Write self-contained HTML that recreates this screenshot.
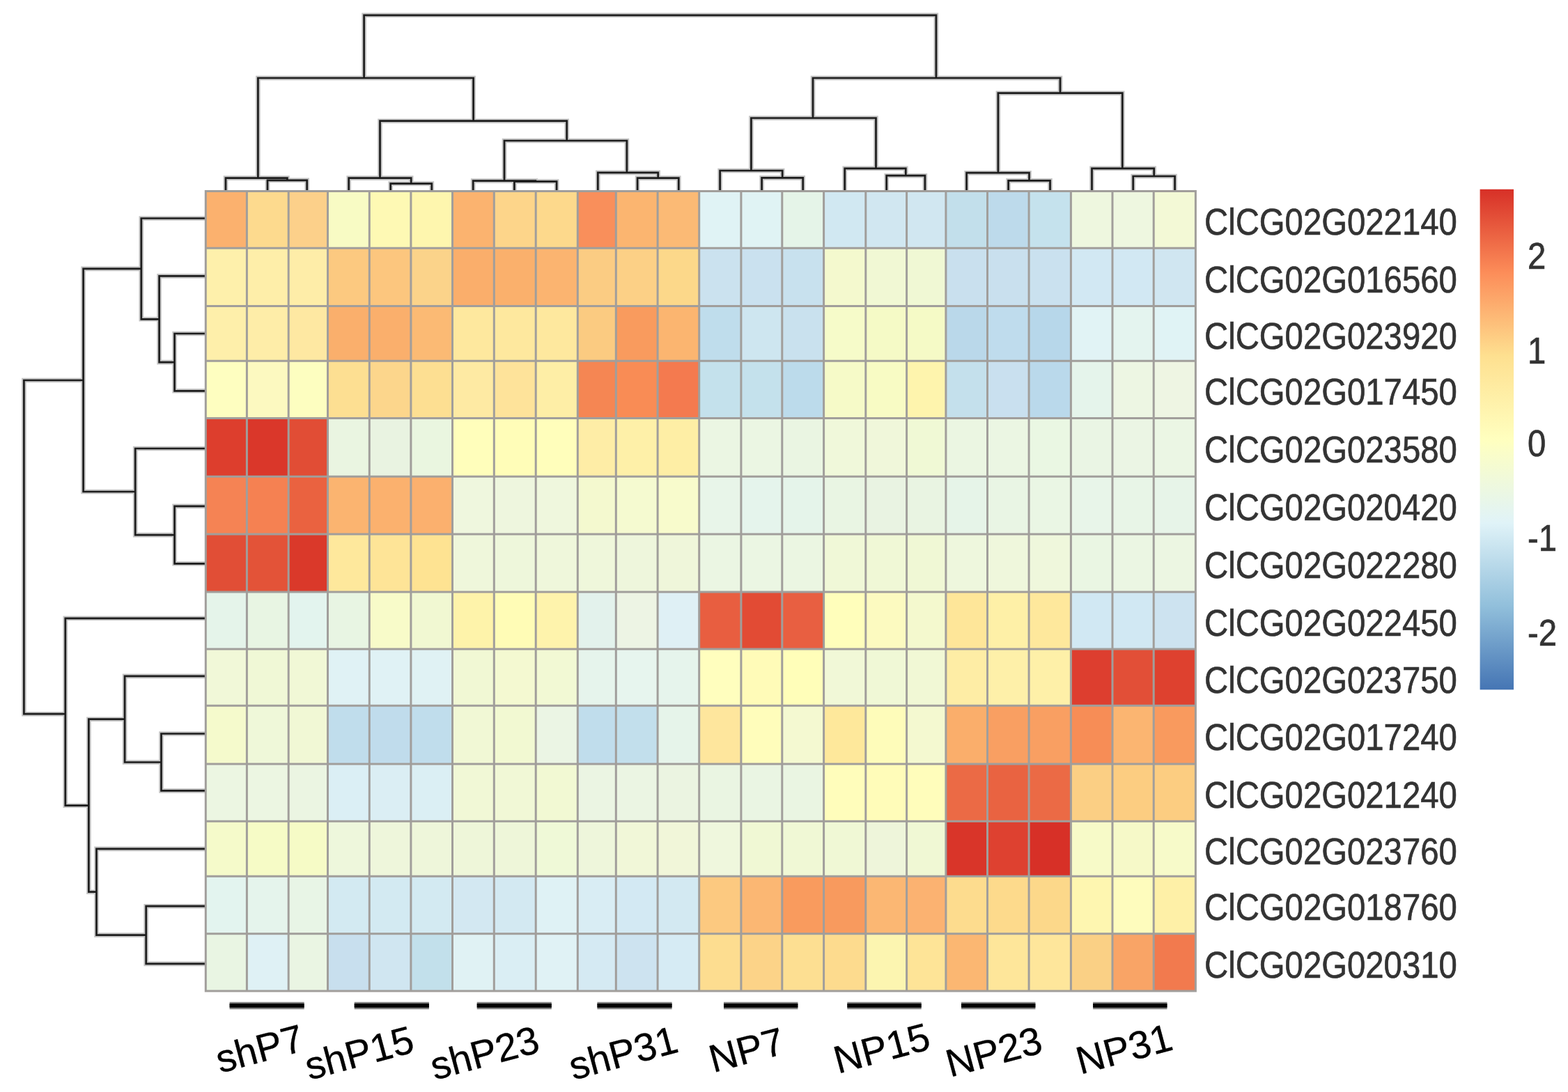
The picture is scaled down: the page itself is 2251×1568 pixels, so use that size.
<!DOCTYPE html>
<html><head><meta charset="utf-8"><title>heatmap</title>
<style>html,body{margin:0;padding:0;background:#fff;} body{width:2251px;height:1568px;overflow:hidden;} svg{display:block;}</style>
</head><body>
<svg width="2251" height="1568" viewBox="0 0 2251 1568">
<rect x="0" y="0" width="2251" height="1568" fill="#ffffff"/>
<path d="M384.0 273.5V258.8H440.7V273.5M324.0 273.5V255.6H412.4V258.8M560.7 273.5V263.6H619.8V273.5M500.7 273.5V255.6H590.2V263.6M738.4 273.5V260.6H799.1V273.5M679.2 273.5V259.6H768.8V260.6M915.1 273.5V255.6H974.3V273.5M858.3 273.5V247.9H944.7V255.6M1093.6 273.5V255.4H1152.7V273.5M1033.6 273.5V245.0H1123.2V255.4M1272.7 273.5V252.2H1327.9V273.5M1212.7 273.5V241.8H1300.3V252.2M1447.6 273.5V259.4H1507.5V273.5M1387.6 273.5V248.2H1477.5V259.4M1626.7 273.5V253.0H1686.6V273.5M1567.5 273.5V241.8H1656.7V253.0M724.0 259.6V202.0H899.9V247.9M545.5 255.6V173.7H813.7V202.0M370.4 255.6V112.0H679.6V173.7M1078.4 245.0V169.5H1257.5V241.8M1432.9 248.2V133.7H1611.3V241.8M1167.0 169.5V112.0H1522.0V133.7M522.6 112.0V21.8H1343.9V112.0M295.0 479.0H250.6V561.3H295.0M295.0 396.4H228.6V520.1H250.6M295.0 313.5H202.8V458.3H228.6M295.0 726.9H250.6V809.3H295.0M295.0 644.0H194.2V768.1H250.6M202.8 385.9H119.6V706.0H194.2M295.0 1053.5H231.5V1135.4H295.0M295.0 970.9H179.1V1094.5H231.5M295.0 1301.2H209.7V1383.9H295.0M295.0 1218.9H138.5V1342.6H209.7M179.1 1032.7H127.4V1280.7H138.5M295.0 887.8H93.8V1156.7H127.4M119.6 546.0H34.4V1025.2H93.8" stroke="#c4c4c4" stroke-width="6.6" fill="none" stroke-linecap="square" stroke-linejoin="miter"/>
<path d="M384.0 273.5V258.8H440.7V273.5M324.0 273.5V255.6H412.4V258.8M560.7 273.5V263.6H619.8V273.5M500.7 273.5V255.6H590.2V263.6M738.4 273.5V260.6H799.1V273.5M679.2 273.5V259.6H768.8V260.6M915.1 273.5V255.6H974.3V273.5M858.3 273.5V247.9H944.7V255.6M1093.6 273.5V255.4H1152.7V273.5M1033.6 273.5V245.0H1123.2V255.4M1272.7 273.5V252.2H1327.9V273.5M1212.7 273.5V241.8H1300.3V252.2M1447.6 273.5V259.4H1507.5V273.5M1387.6 273.5V248.2H1477.5V259.4M1626.7 273.5V253.0H1686.6V273.5M1567.5 273.5V241.8H1656.7V253.0M724.0 259.6V202.0H899.9V247.9M545.5 255.6V173.7H813.7V202.0M370.4 255.6V112.0H679.6V173.7M1078.4 245.0V169.5H1257.5V241.8M1432.9 248.2V133.7H1611.3V241.8M1167.0 169.5V112.0H1522.0V133.7M522.6 112.0V21.8H1343.9V112.0M295.0 479.0H250.6V561.3H295.0M295.0 396.4H228.6V520.1H250.6M295.0 313.5H202.8V458.3H228.6M295.0 726.9H250.6V809.3H295.0M295.0 644.0H194.2V768.1H250.6M202.8 385.9H119.6V706.0H194.2M295.0 1053.5H231.5V1135.4H295.0M295.0 970.9H179.1V1094.5H231.5M295.0 1301.2H209.7V1383.9H295.0M295.0 1218.9H138.5V1342.6H209.7M179.1 1032.7H127.4V1280.7H138.5M295.0 887.8H93.8V1156.7H127.4M119.6 546.0H34.4V1025.2H93.8" stroke="#1c1c1c" stroke-width="2.7" fill="none" stroke-linecap="square" stroke-linejoin="miter"/>
<rect x="295.30" y="274.60" width="59.40" height="82.00" fill="#FBB16E"/>
<rect x="354.40" y="274.60" width="60.10" height="82.00" fill="#FDDA8E"/>
<rect x="414.20" y="274.60" width="56.60" height="82.00" fill="#FCD08A"/>
<rect x="470.50" y="274.60" width="60.10" height="82.00" fill="#F8FBC4"/>
<rect x="530.30" y="274.60" width="59.90" height="82.00" fill="#FEF9B4"/>
<rect x="589.90" y="274.60" width="59.90" height="82.00" fill="#FEF6AE"/>
<rect x="649.50" y="274.60" width="60.10" height="82.00" fill="#FBB36F"/>
<rect x="709.30" y="274.60" width="60.20" height="82.00" fill="#FDD58A"/>
<rect x="769.20" y="274.60" width="60.40" height="82.00" fill="#FDD98C"/>
<rect x="829.30" y="274.60" width="55.30" height="82.00" fill="#F98F5B"/>
<rect x="884.30" y="274.60" width="60.10" height="82.00" fill="#FBB570"/>
<rect x="944.10" y="274.60" width="59.90" height="82.00" fill="#FBBA75"/>
<rect x="1003.70" y="274.60" width="60.50" height="82.00" fill="#E0F3F5"/>
<rect x="1063.90" y="274.60" width="59.20" height="82.00" fill="#E0F3F4"/>
<rect x="1122.80" y="274.60" width="60.10" height="82.00" fill="#E5F4E8"/>
<rect x="1182.60" y="274.60" width="60.50" height="82.00" fill="#D1E8F2"/>
<rect x="1242.80" y="274.60" width="59.10" height="82.00" fill="#D1E7F1"/>
<rect x="1301.60" y="274.60" width="56.60" height="82.00" fill="#D1E7F1"/>
<rect x="1357.90" y="274.60" width="59.90" height="82.00" fill="#C2DFEB"/>
<rect x="1417.50" y="274.60" width="59.90" height="82.00" fill="#BDDAEB"/>
<rect x="1477.10" y="274.60" width="60.60" height="82.00" fill="#C5E2ED"/>
<rect x="1537.40" y="274.60" width="59.90" height="82.00" fill="#EEF7DF"/>
<rect x="1597.00" y="274.60" width="59.50" height="82.00" fill="#EEF7E0"/>
<rect x="1656.20" y="274.60" width="60.50" height="82.00" fill="#F3F9D6"/>
<rect x="295.30" y="356.30" width="59.40" height="83.40" fill="#FEF0AB"/>
<rect x="354.40" y="356.30" width="60.10" height="83.40" fill="#FEEEA9"/>
<rect x="414.20" y="356.30" width="56.60" height="83.40" fill="#FEEDA8"/>
<rect x="470.50" y="356.30" width="60.10" height="83.40" fill="#FCC980"/>
<rect x="530.30" y="356.30" width="59.90" height="83.40" fill="#FCC67E"/>
<rect x="589.90" y="356.30" width="59.90" height="83.40" fill="#FBD38A"/>
<rect x="649.50" y="356.30" width="60.10" height="83.40" fill="#FAAE6B"/>
<rect x="709.30" y="356.30" width="60.20" height="83.40" fill="#FAB06C"/>
<rect x="769.20" y="356.30" width="60.40" height="83.40" fill="#FBB470"/>
<rect x="829.30" y="356.30" width="55.30" height="83.40" fill="#FBCC83"/>
<rect x="884.30" y="356.30" width="60.10" height="83.40" fill="#FCD086"/>
<rect x="944.10" y="356.30" width="59.90" height="83.40" fill="#FCD88A"/>
<rect x="1003.70" y="356.30" width="60.50" height="83.40" fill="#CBE2EF"/>
<rect x="1063.90" y="356.30" width="59.20" height="83.40" fill="#CAE1EF"/>
<rect x="1122.80" y="356.30" width="60.10" height="83.40" fill="#C8E1EE"/>
<rect x="1182.60" y="356.30" width="60.50" height="83.40" fill="#F4F9CE"/>
<rect x="1242.80" y="356.30" width="59.10" height="83.40" fill="#F1F8D4"/>
<rect x="1301.60" y="356.30" width="56.60" height="83.40" fill="#F0F8D4"/>
<rect x="1357.90" y="356.30" width="59.90" height="83.40" fill="#C9E0EE"/>
<rect x="1417.50" y="356.30" width="59.90" height="83.40" fill="#C9E0EE"/>
<rect x="1477.10" y="356.30" width="60.60" height="83.40" fill="#CAE1EF"/>
<rect x="1537.40" y="356.30" width="59.90" height="83.40" fill="#D2E8F3"/>
<rect x="1597.00" y="356.30" width="59.50" height="83.40" fill="#D2E8F3"/>
<rect x="1656.20" y="356.30" width="60.50" height="83.40" fill="#D0E6F1"/>
<rect x="295.30" y="439.40" width="59.40" height="79.20" fill="#FEEFAA"/>
<rect x="354.40" y="439.40" width="60.10" height="79.20" fill="#FEEDA8"/>
<rect x="414.20" y="439.40" width="56.60" height="79.20" fill="#FEE8A2"/>
<rect x="470.50" y="439.40" width="60.10" height="79.20" fill="#FAAF6C"/>
<rect x="530.30" y="439.40" width="59.90" height="79.20" fill="#FAAF6C"/>
<rect x="589.90" y="439.40" width="59.90" height="79.20" fill="#FBBA74"/>
<rect x="649.50" y="439.40" width="60.10" height="79.20" fill="#FEE89E"/>
<rect x="709.30" y="439.40" width="60.20" height="79.20" fill="#FEE89E"/>
<rect x="769.20" y="439.40" width="60.40" height="79.20" fill="#FEE89E"/>
<rect x="829.30" y="439.40" width="55.30" height="79.20" fill="#FBCB81"/>
<rect x="884.30" y="439.40" width="60.10" height="79.20" fill="#F99B5E"/>
<rect x="944.10" y="439.40" width="59.90" height="79.20" fill="#FBB570"/>
<rect x="1003.70" y="439.40" width="60.50" height="79.20" fill="#BFDDEC"/>
<rect x="1063.90" y="439.40" width="59.20" height="79.20" fill="#CEE6F0"/>
<rect x="1122.80" y="439.40" width="60.10" height="79.20" fill="#C9E1EE"/>
<rect x="1182.60" y="439.40" width="60.50" height="79.20" fill="#F6FBC9"/>
<rect x="1242.80" y="439.40" width="59.10" height="79.20" fill="#F5FAC6"/>
<rect x="1301.60" y="439.40" width="56.60" height="79.20" fill="#F5FAC6"/>
<rect x="1357.90" y="439.40" width="59.90" height="79.20" fill="#BAD8EA"/>
<rect x="1417.50" y="439.40" width="59.90" height="79.20" fill="#BFDCED"/>
<rect x="1477.10" y="439.40" width="60.60" height="79.20" fill="#B7D7EA"/>
<rect x="1537.40" y="439.40" width="59.90" height="79.20" fill="#E1F3F5"/>
<rect x="1597.00" y="439.40" width="59.50" height="79.20" fill="#E4F4EF"/>
<rect x="1656.20" y="439.40" width="60.50" height="79.20" fill="#E0F3F5"/>
<rect x="295.30" y="518.30" width="59.40" height="82.60" fill="#FEFEC0"/>
<rect x="354.40" y="518.30" width="60.10" height="82.60" fill="#FCF9C0"/>
<rect x="414.20" y="518.30" width="56.60" height="82.60" fill="#FDFEC0"/>
<rect x="470.50" y="518.30" width="60.10" height="82.60" fill="#FDDF92"/>
<rect x="530.30" y="518.30" width="59.90" height="82.60" fill="#FCD68C"/>
<rect x="589.90" y="518.30" width="59.90" height="82.60" fill="#FDDF92"/>
<rect x="649.50" y="518.30" width="60.10" height="82.60" fill="#FEEAA3"/>
<rect x="709.30" y="518.30" width="60.20" height="82.60" fill="#FEE39A"/>
<rect x="769.20" y="518.30" width="60.40" height="82.60" fill="#FEEEA6"/>
<rect x="829.30" y="518.30" width="55.30" height="82.60" fill="#F58653"/>
<rect x="884.30" y="518.30" width="60.10" height="82.60" fill="#F98C55"/>
<rect x="944.10" y="518.30" width="59.90" height="82.60" fill="#F47A4F"/>
<rect x="1003.70" y="518.30" width="60.50" height="82.60" fill="#C4E1EC"/>
<rect x="1063.90" y="518.30" width="59.20" height="82.60" fill="#C4E1EC"/>
<rect x="1122.80" y="518.30" width="60.10" height="82.60" fill="#BCDBEB"/>
<rect x="1182.60" y="518.30" width="60.50" height="82.60" fill="#F6FAC8"/>
<rect x="1242.80" y="518.30" width="59.10" height="82.60" fill="#F8FBC4"/>
<rect x="1301.60" y="518.30" width="56.60" height="82.60" fill="#FEF4AD"/>
<rect x="1357.90" y="518.30" width="59.90" height="82.60" fill="#C4E0EC"/>
<rect x="1417.50" y="518.30" width="59.90" height="82.60" fill="#C9E0EF"/>
<rect x="1477.10" y="518.30" width="60.60" height="82.60" fill="#BAD9EB"/>
<rect x="1537.40" y="518.30" width="59.90" height="82.60" fill="#E5F4EB"/>
<rect x="1597.00" y="518.30" width="59.50" height="82.60" fill="#EDF6E3"/>
<rect x="1656.20" y="518.30" width="60.50" height="82.60" fill="#EEF5E3"/>
<rect x="295.30" y="600.60" width="59.40" height="83.90" fill="#DD3E2D"/>
<rect x="354.40" y="600.60" width="60.10" height="83.90" fill="#DA372A"/>
<rect x="414.20" y="600.60" width="56.60" height="83.90" fill="#E14D35"/>
<rect x="470.50" y="600.60" width="60.10" height="83.90" fill="#EAF5E1"/>
<rect x="530.30" y="600.60" width="59.90" height="83.90" fill="#E9F3E1"/>
<rect x="589.90" y="600.60" width="59.90" height="83.90" fill="#EAF6E0"/>
<rect x="649.50" y="600.60" width="60.10" height="83.90" fill="#FFFEBB"/>
<rect x="709.30" y="600.60" width="60.20" height="83.90" fill="#FFFDB8"/>
<rect x="769.20" y="600.60" width="60.40" height="83.90" fill="#FFFEBB"/>
<rect x="829.30" y="600.60" width="55.30" height="83.90" fill="#FEEDA6"/>
<rect x="884.30" y="600.60" width="60.10" height="83.90" fill="#FEF0A8"/>
<rect x="944.10" y="600.60" width="59.90" height="83.90" fill="#FEEEA5"/>
<rect x="1003.70" y="600.60" width="60.50" height="83.90" fill="#EBF6E3"/>
<rect x="1063.90" y="600.60" width="59.20" height="83.90" fill="#EBF6E3"/>
<rect x="1122.80" y="600.60" width="60.10" height="83.90" fill="#EAF5E2"/>
<rect x="1182.60" y="600.60" width="60.50" height="83.90" fill="#F0F8DA"/>
<rect x="1242.80" y="600.60" width="59.10" height="83.90" fill="#F0F7DA"/>
<rect x="1301.60" y="600.60" width="56.60" height="83.90" fill="#F0F9D5"/>
<rect x="1357.90" y="600.60" width="59.90" height="83.90" fill="#EBF6E2"/>
<rect x="1417.50" y="600.60" width="59.90" height="83.90" fill="#EBF6E3"/>
<rect x="1477.10" y="600.60" width="60.60" height="83.90" fill="#EAF7E3"/>
<rect x="1537.40" y="600.60" width="59.90" height="83.90" fill="#EAF5E4"/>
<rect x="1597.00" y="600.60" width="59.50" height="83.90" fill="#EBF5E4"/>
<rect x="1656.20" y="600.60" width="60.50" height="83.90" fill="#EBF6E4"/>
<rect x="295.30" y="684.20" width="59.40" height="83.10" fill="#F58354"/>
<rect x="354.40" y="684.20" width="60.10" height="83.10" fill="#F58152"/>
<rect x="414.20" y="684.20" width="56.60" height="83.10" fill="#EA6240"/>
<rect x="470.50" y="684.20" width="60.10" height="83.10" fill="#FBB470"/>
<rect x="530.30" y="684.20" width="59.90" height="83.10" fill="#FBB16E"/>
<rect x="589.90" y="684.20" width="59.90" height="83.10" fill="#FBB06E"/>
<rect x="649.50" y="684.20" width="60.10" height="83.10" fill="#EFF7DE"/>
<rect x="709.30" y="684.20" width="60.20" height="83.10" fill="#EEF6DE"/>
<rect x="769.20" y="684.20" width="60.40" height="83.10" fill="#EFF7DD"/>
<rect x="829.30" y="684.20" width="55.30" height="83.10" fill="#F4F9CF"/>
<rect x="884.30" y="684.20" width="60.10" height="83.10" fill="#F5FAD0"/>
<rect x="944.10" y="684.20" width="59.90" height="83.10" fill="#F8FBCC"/>
<rect x="1003.70" y="684.20" width="60.50" height="83.10" fill="#E8F5E9"/>
<rect x="1063.90" y="684.20" width="59.20" height="83.10" fill="#E5F4EC"/>
<rect x="1122.80" y="684.20" width="60.10" height="83.10" fill="#E5F4EA"/>
<rect x="1182.60" y="684.20" width="60.50" height="83.10" fill="#E9F5E3"/>
<rect x="1242.80" y="684.20" width="59.10" height="83.10" fill="#E9F3E2"/>
<rect x="1301.60" y="684.20" width="56.60" height="83.10" fill="#E9F4E2"/>
<rect x="1357.90" y="684.20" width="59.90" height="83.10" fill="#E6F4E8"/>
<rect x="1417.50" y="684.20" width="59.90" height="83.10" fill="#E9F5E4"/>
<rect x="1477.10" y="684.20" width="60.60" height="83.10" fill="#EAF6E4"/>
<rect x="1537.40" y="684.20" width="59.90" height="83.10" fill="#E8F5E9"/>
<rect x="1597.00" y="684.20" width="59.50" height="83.10" fill="#E8F5E7"/>
<rect x="1656.20" y="684.20" width="60.50" height="83.10" fill="#E7F4E8"/>
<rect x="295.30" y="767.00" width="59.40" height="83.20" fill="#E14E36"/>
<rect x="354.40" y="767.00" width="60.10" height="83.20" fill="#E35338"/>
<rect x="414.20" y="767.00" width="56.60" height="83.20" fill="#DA392A"/>
<rect x="470.50" y="767.00" width="60.10" height="83.20" fill="#FEE89C"/>
<rect x="530.30" y="767.00" width="59.90" height="83.20" fill="#FEE497"/>
<rect x="589.90" y="767.00" width="59.90" height="83.20" fill="#FEE392"/>
<rect x="649.50" y="767.00" width="60.10" height="83.20" fill="#EFF7DB"/>
<rect x="709.30" y="767.00" width="60.20" height="83.20" fill="#EEF7DB"/>
<rect x="769.20" y="767.00" width="60.40" height="83.20" fill="#EFF7DB"/>
<rect x="829.30" y="767.00" width="55.30" height="83.20" fill="#EFF7DB"/>
<rect x="884.30" y="767.00" width="60.10" height="83.20" fill="#EEF6DC"/>
<rect x="944.10" y="767.00" width="59.90" height="83.20" fill="#EFF6DA"/>
<rect x="1003.70" y="767.00" width="60.50" height="83.20" fill="#EBF6E3"/>
<rect x="1063.90" y="767.00" width="59.20" height="83.20" fill="#EBF6E3"/>
<rect x="1122.80" y="767.00" width="60.10" height="83.20" fill="#EBF6E2"/>
<rect x="1182.60" y="767.00" width="60.50" height="83.20" fill="#F0F8D7"/>
<rect x="1242.80" y="767.00" width="59.10" height="83.20" fill="#F0F8D6"/>
<rect x="1301.60" y="767.00" width="56.60" height="83.20" fill="#F0F8D5"/>
<rect x="1357.90" y="767.00" width="59.90" height="83.20" fill="#EEF7DD"/>
<rect x="1417.50" y="767.00" width="59.90" height="83.20" fill="#EFF7DC"/>
<rect x="1477.10" y="767.00" width="60.60" height="83.20" fill="#EFF7DC"/>
<rect x="1537.40" y="767.00" width="59.90" height="83.20" fill="#EAF6E3"/>
<rect x="1597.00" y="767.00" width="59.50" height="83.20" fill="#EBF6E3"/>
<rect x="1656.20" y="767.00" width="60.50" height="83.20" fill="#ECF6E2"/>
<rect x="295.30" y="849.90" width="59.40" height="82.50" fill="#E5F4EA"/>
<rect x="354.40" y="849.90" width="60.10" height="82.50" fill="#E8F5E3"/>
<rect x="414.20" y="849.90" width="56.60" height="82.50" fill="#E3F4EE"/>
<rect x="470.50" y="849.90" width="60.10" height="82.50" fill="#E8F5E3"/>
<rect x="530.30" y="849.90" width="59.90" height="82.50" fill="#F8FBC9"/>
<rect x="589.90" y="849.90" width="59.90" height="82.50" fill="#F1F8D2"/>
<rect x="649.50" y="849.90" width="60.10" height="82.50" fill="#FEF3AA"/>
<rect x="709.30" y="849.90" width="60.20" height="82.50" fill="#FFFCB6"/>
<rect x="769.20" y="849.90" width="60.40" height="82.50" fill="#FEF3AC"/>
<rect x="829.30" y="849.90" width="55.30" height="82.50" fill="#E3F2EC"/>
<rect x="884.30" y="849.90" width="60.10" height="82.50" fill="#EDF4E4"/>
<rect x="944.10" y="849.90" width="59.90" height="82.50" fill="#DFF0F5"/>
<rect x="1003.70" y="849.90" width="60.50" height="82.50" fill="#E85E40"/>
<rect x="1063.90" y="849.90" width="59.20" height="82.50" fill="#E24B34"/>
<rect x="1122.80" y="849.90" width="60.10" height="82.50" fill="#E85F41"/>
<rect x="1182.60" y="849.90" width="60.50" height="82.50" fill="#FFFEBB"/>
<rect x="1242.80" y="849.90" width="59.10" height="82.50" fill="#FCFAC0"/>
<rect x="1301.60" y="849.90" width="56.60" height="82.50" fill="#F4F9CE"/>
<rect x="1357.90" y="849.90" width="59.90" height="82.50" fill="#FEE699"/>
<rect x="1417.50" y="849.90" width="59.90" height="82.50" fill="#FEF0A7"/>
<rect x="1477.10" y="849.90" width="60.60" height="82.50" fill="#FEE89C"/>
<rect x="1537.40" y="849.90" width="59.90" height="82.50" fill="#D1E8F3"/>
<rect x="1597.00" y="849.90" width="59.50" height="82.50" fill="#D1E8F3"/>
<rect x="1656.20" y="849.90" width="60.50" height="82.50" fill="#CDE3F0"/>
<rect x="295.30" y="932.10" width="59.40" height="81.50" fill="#F1F8D8"/>
<rect x="354.40" y="932.10" width="60.10" height="81.50" fill="#F0F8D6"/>
<rect x="414.20" y="932.10" width="56.60" height="81.50" fill="#F1F8D6"/>
<rect x="470.50" y="932.10" width="60.10" height="81.50" fill="#E0F2F5"/>
<rect x="530.30" y="932.10" width="59.90" height="81.50" fill="#E0F2F5"/>
<rect x="589.90" y="932.10" width="59.90" height="81.50" fill="#E0F2F4"/>
<rect x="649.50" y="932.10" width="60.10" height="81.50" fill="#F1F8D4"/>
<rect x="709.30" y="932.10" width="60.20" height="81.50" fill="#F4F9D1"/>
<rect x="769.20" y="932.10" width="60.40" height="81.50" fill="#F2F9D4"/>
<rect x="829.30" y="932.10" width="55.30" height="81.50" fill="#E6F4EC"/>
<rect x="884.30" y="932.10" width="60.10" height="81.50" fill="#E7F5EE"/>
<rect x="944.10" y="932.10" width="59.90" height="81.50" fill="#E6F4EC"/>
<rect x="1003.70" y="932.10" width="60.50" height="81.50" fill="#FFFEBE"/>
<rect x="1063.90" y="932.10" width="59.20" height="81.50" fill="#FFFBB8"/>
<rect x="1122.80" y="932.10" width="60.10" height="81.50" fill="#FFFEB9"/>
<rect x="1182.60" y="932.10" width="60.50" height="81.50" fill="#F1F8D7"/>
<rect x="1242.80" y="932.10" width="59.10" height="81.50" fill="#F0F8D6"/>
<rect x="1301.60" y="932.10" width="56.60" height="81.50" fill="#F1F8D5"/>
<rect x="1357.90" y="932.10" width="59.90" height="81.50" fill="#FEEDA5"/>
<rect x="1417.50" y="932.10" width="59.90" height="81.50" fill="#FEF0A9"/>
<rect x="1477.10" y="932.10" width="60.60" height="81.50" fill="#FEF0A8"/>
<rect x="1537.40" y="932.10" width="59.90" height="81.50" fill="#DD3E2F"/>
<rect x="1597.00" y="932.10" width="59.50" height="81.50" fill="#E24F37"/>
<rect x="1656.20" y="932.10" width="60.50" height="81.50" fill="#DE412F"/>
<rect x="295.30" y="1013.30" width="59.40" height="84.10" fill="#F5FACC"/>
<rect x="354.40" y="1013.30" width="60.10" height="84.10" fill="#EFF8D9"/>
<rect x="414.20" y="1013.30" width="56.60" height="84.10" fill="#F1F8D5"/>
<rect x="470.50" y="1013.30" width="60.10" height="84.10" fill="#C0DDEC"/>
<rect x="530.30" y="1013.30" width="59.90" height="84.10" fill="#C0DCEC"/>
<rect x="589.90" y="1013.30" width="59.90" height="84.10" fill="#C0DDEC"/>
<rect x="649.50" y="1013.30" width="60.10" height="84.10" fill="#F1F8D5"/>
<rect x="709.30" y="1013.30" width="60.20" height="84.10" fill="#F2F9D2"/>
<rect x="769.20" y="1013.30" width="60.40" height="84.10" fill="#EBF5E4"/>
<rect x="829.30" y="1013.30" width="55.30" height="84.10" fill="#C0DDEC"/>
<rect x="884.30" y="1013.30" width="60.10" height="84.10" fill="#C2DFEC"/>
<rect x="944.10" y="1013.30" width="59.90" height="84.10" fill="#E6F4EA"/>
<rect x="1003.70" y="1013.30" width="60.50" height="84.10" fill="#FEE69D"/>
<rect x="1063.90" y="1013.30" width="59.20" height="84.10" fill="#FFFDBB"/>
<rect x="1122.80" y="1013.30" width="60.10" height="84.10" fill="#F4F9D1"/>
<rect x="1182.60" y="1013.30" width="60.50" height="84.10" fill="#FEE89B"/>
<rect x="1242.80" y="1013.30" width="59.10" height="84.10" fill="#FEFCBA"/>
<rect x="1301.60" y="1013.30" width="56.60" height="84.10" fill="#F4F9D0"/>
<rect x="1357.90" y="1013.30" width="59.90" height="84.10" fill="#FAAE6B"/>
<rect x="1417.50" y="1013.30" width="59.90" height="84.10" fill="#F99F62"/>
<rect x="1477.10" y="1013.30" width="60.60" height="84.10" fill="#F99F62"/>
<rect x="1537.40" y="1013.30" width="59.90" height="84.10" fill="#F78D56"/>
<rect x="1597.00" y="1013.30" width="59.50" height="84.10" fill="#FBB571"/>
<rect x="1656.20" y="1013.30" width="60.50" height="84.10" fill="#F99A5E"/>
<rect x="295.30" y="1097.10" width="59.40" height="82.40" fill="#ECF6E2"/>
<rect x="354.40" y="1097.10" width="60.10" height="82.40" fill="#ECF6E2"/>
<rect x="414.20" y="1097.10" width="56.60" height="82.40" fill="#EBF5E2"/>
<rect x="470.50" y="1097.10" width="60.10" height="82.40" fill="#DBEFF5"/>
<rect x="530.30" y="1097.10" width="59.90" height="82.40" fill="#DBEEF4"/>
<rect x="589.90" y="1097.10" width="59.90" height="82.40" fill="#DBEFF4"/>
<rect x="649.50" y="1097.10" width="60.10" height="82.40" fill="#F1F8D6"/>
<rect x="709.30" y="1097.10" width="60.20" height="82.40" fill="#F1F8D6"/>
<rect x="769.20" y="1097.10" width="60.40" height="82.40" fill="#F2F9D3"/>
<rect x="829.30" y="1097.10" width="55.30" height="82.40" fill="#EBF5E3"/>
<rect x="884.30" y="1097.10" width="60.10" height="82.40" fill="#EBF5E3"/>
<rect x="944.10" y="1097.10" width="59.90" height="82.40" fill="#EBF4E1"/>
<rect x="1003.70" y="1097.10" width="60.50" height="82.40" fill="#EAF5E2"/>
<rect x="1063.90" y="1097.10" width="59.20" height="82.40" fill="#EAF5E3"/>
<rect x="1122.80" y="1097.10" width="60.10" height="82.40" fill="#EAF5E2"/>
<rect x="1182.60" y="1097.10" width="60.50" height="82.40" fill="#FFFDBB"/>
<rect x="1242.80" y="1097.10" width="59.10" height="82.40" fill="#FFFCB9"/>
<rect x="1301.60" y="1097.10" width="56.60" height="82.40" fill="#FFFDBB"/>
<rect x="1357.90" y="1097.10" width="59.90" height="82.40" fill="#EB6A45"/>
<rect x="1417.50" y="1097.10" width="59.90" height="82.40" fill="#E96341"/>
<rect x="1477.10" y="1097.10" width="60.60" height="82.40" fill="#EB6A45"/>
<rect x="1537.40" y="1097.10" width="59.90" height="82.40" fill="#FBCF84"/>
<rect x="1597.00" y="1097.10" width="59.50" height="82.40" fill="#FCCD81"/>
<rect x="1656.20" y="1097.10" width="60.50" height="82.40" fill="#FCCD81"/>
<rect x="295.30" y="1179.20" width="59.40" height="79.40" fill="#F5FACA"/>
<rect x="354.40" y="1179.20" width="60.10" height="79.40" fill="#F6FBC6"/>
<rect x="414.20" y="1179.20" width="56.60" height="79.40" fill="#F6FBC6"/>
<rect x="470.50" y="1179.20" width="60.10" height="79.40" fill="#EEF7DC"/>
<rect x="530.30" y="1179.20" width="59.90" height="79.40" fill="#EEF6DB"/>
<rect x="589.90" y="1179.20" width="59.90" height="79.40" fill="#EEF6DA"/>
<rect x="649.50" y="1179.20" width="60.10" height="79.40" fill="#EEF6D9"/>
<rect x="709.30" y="1179.20" width="60.20" height="79.40" fill="#EEF6D9"/>
<rect x="769.20" y="1179.20" width="60.40" height="79.40" fill="#EFF9D7"/>
<rect x="829.30" y="1179.20" width="55.30" height="79.40" fill="#EEF6DB"/>
<rect x="884.30" y="1179.20" width="60.10" height="79.40" fill="#F1F7D8"/>
<rect x="944.10" y="1179.20" width="59.90" height="79.40" fill="#F1F6D9"/>
<rect x="1003.70" y="1179.20" width="60.50" height="79.40" fill="#EFF7DD"/>
<rect x="1063.90" y="1179.20" width="59.20" height="79.40" fill="#F0F8D4"/>
<rect x="1122.80" y="1179.20" width="60.10" height="79.40" fill="#F0F8D5"/>
<rect x="1182.60" y="1179.20" width="60.50" height="79.40" fill="#F0F8D5"/>
<rect x="1242.80" y="1179.20" width="59.10" height="79.40" fill="#EEF5DA"/>
<rect x="1301.60" y="1179.20" width="56.60" height="79.40" fill="#F0F8D4"/>
<rect x="1357.90" y="1179.20" width="59.90" height="79.40" fill="#D93529"/>
<rect x="1417.50" y="1179.20" width="59.90" height="79.40" fill="#DE4130"/>
<rect x="1477.10" y="1179.20" width="60.60" height="79.40" fill="#D73027"/>
<rect x="1537.40" y="1179.20" width="59.90" height="79.40" fill="#F7FAC8"/>
<rect x="1597.00" y="1179.20" width="59.50" height="79.40" fill="#F6F9C8"/>
<rect x="1656.20" y="1179.20" width="60.50" height="79.40" fill="#F7FAC9"/>
<rect x="295.30" y="1258.30" width="59.40" height="82.80" fill="#E3F4EF"/>
<rect x="354.40" y="1258.30" width="60.10" height="82.80" fill="#E5F4EC"/>
<rect x="414.20" y="1258.30" width="56.60" height="82.80" fill="#E8F5E6"/>
<rect x="470.50" y="1258.30" width="60.10" height="82.80" fill="#D3EAF2"/>
<rect x="530.30" y="1258.30" width="59.90" height="82.80" fill="#D3EAF2"/>
<rect x="589.90" y="1258.30" width="59.90" height="82.80" fill="#D3EAF2"/>
<rect x="649.50" y="1258.30" width="60.10" height="82.80" fill="#D3E8F2"/>
<rect x="709.30" y="1258.30" width="60.20" height="82.80" fill="#D3E9F2"/>
<rect x="769.20" y="1258.30" width="60.40" height="82.80" fill="#DFF2F5"/>
<rect x="829.30" y="1258.30" width="55.30" height="82.80" fill="#D9EDF4"/>
<rect x="884.30" y="1258.30" width="60.10" height="82.80" fill="#D3E9F3"/>
<rect x="944.10" y="1258.30" width="59.90" height="82.80" fill="#D3E9F2"/>
<rect x="1003.70" y="1258.30" width="60.50" height="82.80" fill="#FCC980"/>
<rect x="1063.90" y="1258.30" width="59.20" height="82.80" fill="#FBB773"/>
<rect x="1122.80" y="1258.30" width="60.10" height="82.80" fill="#F99B5E"/>
<rect x="1182.60" y="1258.30" width="60.50" height="82.80" fill="#F89A5E"/>
<rect x="1242.80" y="1258.30" width="59.10" height="82.80" fill="#FBB773"/>
<rect x="1301.60" y="1258.30" width="56.60" height="82.80" fill="#FBB271"/>
<rect x="1357.90" y="1258.30" width="59.90" height="82.80" fill="#FDDC8E"/>
<rect x="1417.50" y="1258.30" width="59.90" height="82.80" fill="#FDDA8C"/>
<rect x="1477.10" y="1258.30" width="60.60" height="82.80" fill="#FCD88A"/>
<rect x="1537.40" y="1258.30" width="59.90" height="82.80" fill="#FEF6B0"/>
<rect x="1597.00" y="1258.30" width="59.50" height="82.80" fill="#FEFCBD"/>
<rect x="1656.20" y="1258.30" width="60.50" height="82.80" fill="#FEF0A7"/>
<rect x="295.30" y="1340.80" width="59.40" height="82.60" fill="#E9F5E3"/>
<rect x="354.40" y="1340.80" width="60.10" height="82.60" fill="#DFF1F5"/>
<rect x="414.20" y="1340.80" width="56.60" height="82.60" fill="#EAF5E3"/>
<rect x="470.50" y="1340.80" width="60.10" height="82.60" fill="#C8DFEE"/>
<rect x="530.30" y="1340.80" width="59.90" height="82.60" fill="#D0E6F1"/>
<rect x="589.90" y="1340.80" width="59.90" height="82.60" fill="#C2E0EB"/>
<rect x="649.50" y="1340.80" width="60.10" height="82.60" fill="#E0F2F4"/>
<rect x="709.30" y="1340.80" width="60.20" height="82.60" fill="#DAEEF4"/>
<rect x="769.20" y="1340.80" width="60.40" height="82.60" fill="#E0F2F5"/>
<rect x="829.30" y="1340.80" width="55.30" height="82.60" fill="#D5EAF3"/>
<rect x="884.30" y="1340.80" width="60.10" height="82.60" fill="#CDE3F0"/>
<rect x="944.10" y="1340.80" width="59.90" height="82.60" fill="#D6EBF4"/>
<rect x="1003.70" y="1340.80" width="60.50" height="82.60" fill="#FDDD90"/>
<rect x="1063.90" y="1340.80" width="59.20" height="82.60" fill="#FCD388"/>
<rect x="1122.80" y="1340.80" width="60.10" height="82.60" fill="#FDDF92"/>
<rect x="1182.60" y="1340.80" width="60.50" height="82.60" fill="#FDDB8E"/>
<rect x="1242.80" y="1340.80" width="59.10" height="82.60" fill="#FCF5B0"/>
<rect x="1301.60" y="1340.80" width="56.60" height="82.60" fill="#FEE497"/>
<rect x="1357.90" y="1340.80" width="59.90" height="82.60" fill="#FBB772"/>
<rect x="1417.50" y="1340.80" width="59.90" height="82.60" fill="#FEE69A"/>
<rect x="1477.10" y="1340.80" width="60.60" height="82.60" fill="#FEE69B"/>
<rect x="1537.40" y="1340.80" width="59.90" height="82.60" fill="#FAD085"/>
<rect x="1597.00" y="1340.80" width="59.50" height="82.60" fill="#F9A466"/>
<rect x="1656.20" y="1340.80" width="60.50" height="82.60" fill="#F27A4E"/>
<path d="M295.30 274.60V1423.10M354.40 274.60V1423.10M414.20 274.60V1423.10M470.50 274.60V1423.10M530.30 274.60V1423.10M589.90 274.60V1423.10M649.50 274.60V1423.10M709.30 274.60V1423.10M769.20 274.60V1423.10M829.30 274.60V1423.10M884.30 274.60V1423.10M944.10 274.60V1423.10M1003.70 274.60V1423.10M1063.90 274.60V1423.10M1122.80 274.60V1423.10M1182.60 274.60V1423.10M1242.80 274.60V1423.10M1301.60 274.60V1423.10M1357.90 274.60V1423.10M1417.50 274.60V1423.10M1477.10 274.60V1423.10M1537.40 274.60V1423.10M1597.00 274.60V1423.10M1656.20 274.60V1423.10M1716.40 274.60V1423.10M295.30 274.60H1716.40M295.30 356.30H1716.40M295.30 439.40H1716.40M295.30 518.30H1716.40M295.30 600.60H1716.40M295.30 684.20H1716.40M295.30 767.00H1716.40M295.30 849.90H1716.40M295.30 932.10H1716.40M295.30 1013.30H1716.40M295.30 1097.10H1716.40M295.30 1179.20H1716.40M295.30 1258.30H1716.40M295.30 1340.80H1716.40M295.30 1423.10H1716.40" stroke="#a19e9b" stroke-width="3" fill="none" stroke-linecap="square"/>
<defs><linearGradient id="lg" x1="0" y1="1" x2="0" y2="0">
<stop offset="0.0000" stop-color="#4575B4"/>
<stop offset="0.1667" stop-color="#91BFDB"/>
<stop offset="0.3333" stop-color="#E0F3F8"/>
<stop offset="0.5000" stop-color="#FFFFBF"/>
<stop offset="0.6667" stop-color="#FEE090"/>
<stop offset="0.8333" stop-color="#FC8D59"/>
<stop offset="1.0000" stop-color="#D73027"/>
</linearGradient></defs>
<rect x="2124.6" y="271.8" width="48.4" height="718.5" fill="url(#lg)"/>
<text transform="translate(1729.0,337.3) scale(0.876,1)" font-family='"Liberation Sans", Arial, sans-serif' font-size="54" fill="#333333" stroke="#333333" stroke-width="0.7">ClCG02G022140</text>
<text transform="translate(1729.0,419.7) scale(0.876,1)" font-family='"Liberation Sans", Arial, sans-serif' font-size="54" fill="#333333" stroke="#333333" stroke-width="0.7">ClCG02G016560</text>
<text transform="translate(1729.0,500.6) scale(0.876,1)" font-family='"Liberation Sans", Arial, sans-serif' font-size="54" fill="#333333" stroke="#333333" stroke-width="0.7">ClCG02G023920</text>
<text transform="translate(1729.0,581.2) scale(0.876,1)" font-family='"Liberation Sans", Arial, sans-serif' font-size="54" fill="#333333" stroke="#333333" stroke-width="0.7">ClCG02G017450</text>
<text transform="translate(1729.0,664.2) scale(0.876,1)" font-family='"Liberation Sans", Arial, sans-serif' font-size="54" fill="#333333" stroke="#333333" stroke-width="0.7">ClCG02G023580</text>
<text transform="translate(1729.0,747.4) scale(0.876,1)" font-family='"Liberation Sans", Arial, sans-serif' font-size="54" fill="#333333" stroke="#333333" stroke-width="0.7">ClCG02G020420</text>
<text transform="translate(1729.0,830.2) scale(0.876,1)" font-family='"Liberation Sans", Arial, sans-serif' font-size="54" fill="#333333" stroke="#333333" stroke-width="0.7">ClCG02G022280</text>
<text transform="translate(1729.0,912.8) scale(0.876,1)" font-family='"Liberation Sans", Arial, sans-serif' font-size="54" fill="#333333" stroke="#333333" stroke-width="0.7">ClCG02G022450</text>
<text transform="translate(1729.0,994.5) scale(0.876,1)" font-family='"Liberation Sans", Arial, sans-serif' font-size="54" fill="#333333" stroke="#333333" stroke-width="0.7">ClCG02G023750</text>
<text transform="translate(1729.0,1077.0) scale(0.876,1)" font-family='"Liberation Sans", Arial, sans-serif' font-size="54" fill="#333333" stroke="#333333" stroke-width="0.7">ClCG02G017240</text>
<text transform="translate(1729.0,1160.0) scale(0.876,1)" font-family='"Liberation Sans", Arial, sans-serif' font-size="54" fill="#333333" stroke="#333333" stroke-width="0.7">ClCG02G021240</text>
<text transform="translate(1729.0,1240.5) scale(0.876,1)" font-family='"Liberation Sans", Arial, sans-serif' font-size="54" fill="#333333" stroke="#333333" stroke-width="0.7">ClCG02G023760</text>
<text transform="translate(1729.0,1321.3) scale(0.876,1)" font-family='"Liberation Sans", Arial, sans-serif' font-size="54" fill="#333333" stroke="#333333" stroke-width="0.7">ClCG02G018760</text>
<text transform="translate(1729.0,1403.7) scale(0.876,1)" font-family='"Liberation Sans", Arial, sans-serif' font-size="54" fill="#333333" stroke="#333333" stroke-width="0.7">ClCG02G020310</text>
<text transform="translate(2193,386.2) scale(0.876,1)" font-family='"Liberation Sans", Arial, sans-serif' font-size="54" fill="#333333" stroke="#333333" stroke-width="0.7">2</text>
<text transform="translate(2193,521.9) scale(0.876,1)" font-family='"Liberation Sans", Arial, sans-serif' font-size="54" fill="#333333" stroke="#333333" stroke-width="0.7">1</text>
<text transform="translate(2193,655.1) scale(0.876,1)" font-family='"Liberation Sans", Arial, sans-serif' font-size="54" fill="#333333" stroke="#333333" stroke-width="0.7">0</text>
<text transform="translate(2193,790.5) scale(0.876,1)" font-family='"Liberation Sans", Arial, sans-serif' font-size="54" fill="#333333" stroke="#333333" stroke-width="0.7">-1</text>
<text transform="translate(2193,926.5) scale(0.876,1)" font-family='"Liberation Sans", Arial, sans-serif' font-size="54" fill="#333333" stroke="#333333" stroke-width="0.7">-2</text>
<rect x="329.6" y="1438.8" width="107.1" height="10.4" fill="#808080"/>
<rect x="329.6" y="1441" width="107.1" height="5.8" fill="#000"/>
<rect x="508.7" y="1438.8" width="107.2" height="10.4" fill="#808080"/>
<rect x="508.7" y="1441" width="107.2" height="5.8" fill="#000"/>
<rect x="684.7" y="1438.8" width="107.1" height="10.4" fill="#808080"/>
<rect x="684.7" y="1441" width="107.1" height="5.8" fill="#000"/>
<rect x="857.4" y="1438.8" width="107.2" height="10.4" fill="#808080"/>
<rect x="857.4" y="1441" width="107.2" height="5.8" fill="#000"/>
<rect x="1039" y="1438.8" width="106.4" height="10.4" fill="#808080"/>
<rect x="1039" y="1441" width="106.4" height="5.8" fill="#000"/>
<rect x="1216.3" y="1438.8" width="106.4" height="10.4" fill="#808080"/>
<rect x="1216.3" y="1441" width="106.4" height="5.8" fill="#000"/>
<rect x="1380" y="1438.8" width="106.4" height="10.4" fill="#808080"/>
<rect x="1380" y="1441" width="106.4" height="5.8" fill="#000"/>
<rect x="1569.1" y="1438.8" width="106.4" height="10.4" fill="#808080"/>
<rect x="1569.1" y="1441" width="106.4" height="5.8" fill="#000"/>
<text transform="translate(316,1541) rotate(-15)" font-family='"Liberation Sans", Arial, sans-serif' font-size="56" fill="#000" stroke="#000" stroke-width="0.3">shP7</text>
<text transform="translate(444,1551) rotate(-15)" font-family='"Liberation Sans", Arial, sans-serif' font-size="56" fill="#000" stroke="#000" stroke-width="0.3">shP15</text>
<text transform="translate(624,1551) rotate(-15)" font-family='"Liberation Sans", Arial, sans-serif' font-size="56" fill="#000" stroke="#000" stroke-width="0.3">shP23</text>
<text transform="translate(823,1551) rotate(-15)" font-family='"Liberation Sans", Arial, sans-serif' font-size="56" fill="#000" stroke="#000" stroke-width="0.3">shP31</text>
<text transform="translate(1024,1540.5) rotate(-15)" font-family='"Liberation Sans", Arial, sans-serif' font-size="56" fill="#000" stroke="#000" stroke-width="0.3">NP7</text>
<text transform="translate(1203,1542) rotate(-15)" font-family='"Liberation Sans", Arial, sans-serif' font-size="56" fill="#000" stroke="#000" stroke-width="0.3">NP15</text>
<text transform="translate(1364,1547) rotate(-15)" font-family='"Liberation Sans", Arial, sans-serif' font-size="56" fill="#000" stroke="#000" stroke-width="0.3">NP23</text>
<text transform="translate(1551,1543) rotate(-15)" font-family='"Liberation Sans", Arial, sans-serif' font-size="56" fill="#000" stroke="#000" stroke-width="0.3">NP31</text>
</svg>
</body></html>
